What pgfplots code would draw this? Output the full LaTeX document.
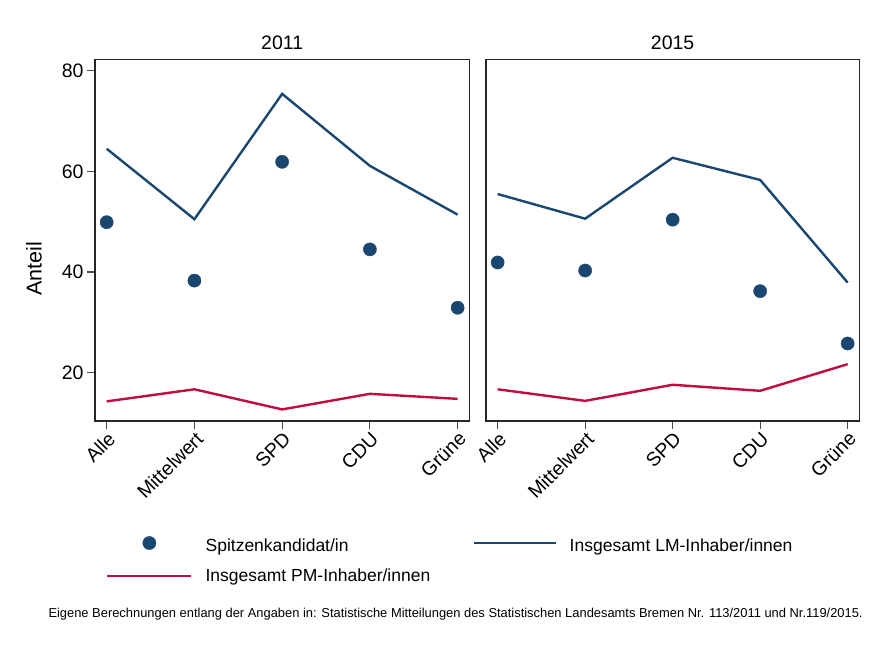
\documentclass[border=0pt]{standalone}
\usepackage{pgfplots}
\pgfplotsset{compat=1.18}
\usepackage{fontspec}
\setmainfont{Liberation Sans}
\definecolor{snavy}{RGB}{26,71,111}
\definecolor{scran}{RGB}{192,12,62}
\pgfplotsset{
  panel/.style={
    scale only axis,
    width=374.3pt, height=361.7pt,
    xmin=-0.133, xmax=4.133,
    ymin=10.4, ymax=82.27,
    xtick={0,1,2,3,4},
    xticklabels={Alle,Mittelwert,SPD,CDU,Grüne},
    ytick={20,40,60,80},
    tick align=outside,
    major tick length=8pt,
    xtick pos=bottom, ytick pos=left,
    axis line style={black!85, line width=1.2pt},
    every tick/.style={black!70, line width=1.1pt},
    tick label style={font=\fontsize{19.5}{22}\selectfont},
    x tick label style={rotate=45, anchor=north east, inner sep=1pt},
    /pgf/number format/assume math mode=true,
    title style={font=\fontsize{19.5}{22}\selectfont, at={(0.5,1)}, anchor=base, yshift=4pt},
    clip=false,
  },
  lm/.style={snavy, line width=2.4pt, mark=none},
  pm/.style={scran, line width=2.4pt, mark=none},
  sk/.style={only marks, mark=*, mark size=6.6pt, mark options={fill=snavy, draw=snavy}},
}
\begin{document}
\begin{tikzpicture}
\useasboundingbox (0,0) rectangle (891pt,648pt);
\begin{axis}[panel, at={(95pt,227pt)}, anchor=south west, title={2011},
  ylabel={Anteil},
  ylabel style={font=\fontsize{21.5}{24}\selectfont, at={(axis description cs:-0.163,0.42)}, anchor=center},
  legend columns=2,
  legend cell align=left,
  legend style={at={(axis description cs:0,0)}, anchor=north west, xshift=11pt, yshift=-115pt,
    draw=none, fill=none, inner sep=0pt, font=\fontsize{17.5}{20}\selectfont,
    nodes={inner sep=0pt, text height=12.5pt, text depth=4pt},
    row sep=13.7pt,
    /tikz/every odd column/.append style={column sep=13pt},
    /tikz/every even column/.append style={column sep=42pt}},
]
\addplot[sk, legend image code/.code={\fill[snavy] (42pt,4pt) circle (6.6pt);}] coordinates {(0,49.9) (1,38.3) (2,61.9) (3,44.5) (4,32.9)};
\addlegendentry{Spitzenkandidat/in}
\addplot[lm, legend image code/.code={\draw[snavy, line width=2.4pt] (0pt,4pt) -- (82pt,4pt);}] coordinates {(0,64.5) (1,50.5) (2,75.4) (3,61.1) (4,51.4)};
\addlegendentry{Insgesamt LM-Inhaber/innen}
\addplot[pm, legend image code/.code={\draw[scran, line width=2.4pt] (0pt,1pt) -- (84pt,1pt);}] coordinates {(0,14.3) (1,16.7) (2,12.7) (3,15.8) (4,14.8)};
\addlegendentry{Insgesamt PM-Inhaber/innen}
\end{axis}
\begin{axis}[panel, at={(486pt,227pt)}, anchor=south west, width=373.3pt, title={2015},
  ytick=\empty]
\addplot[sk] coordinates {(0,41.9) (1,40.3) (2,50.4) (3,36.2) (4,25.8)};
\addplot[lm] coordinates {(0,55.5) (1,50.6) (2,62.7) (3,58.3) (4,37.9)};
\addplot[pm] coordinates {(0,16.7) (1,14.4) (2,17.6) (3,16.4) (4,21.7)};
\end{axis}
\node[anchor=base west, inner sep=0pt, font=\fontsize{12.9}{15}\selectfont] at (48.3pt,30.7pt)
  {Eigene Berechnungen entlang der Angaben in: Statistische Mitteilungen des Statistischen Landesamts Bremen Nr. 113/2011 und Nr.119/2015.};
\end{tikzpicture}
\end{document}
